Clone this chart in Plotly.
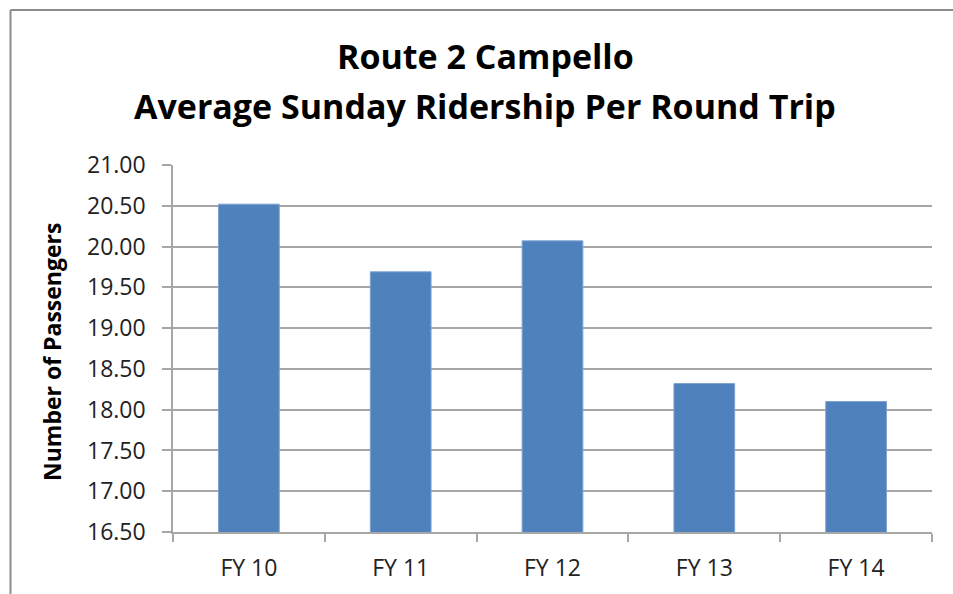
import plotly.graph_objects as go

categories = ["FY 10", "FY 11", "FY 12", "FY 13", "FY 14"]
values = [20.52, 19.69, 20.07, 18.32, 18.10]
title_line1 = "Route 2 Campello"
title_line2 = "Average Sunday Ridership Per Round Trip"
y_title = "Number of Passengers"

W, H = 953, 594
# target plot area in window pixels: x 173..932, y 165.5..531.5
L = 173
T = 165
R = 953 - 932
B = 594 - 532
pw = W - L - R
ph = H - T - B

def px_x(x):
    return (x - L) / pw

def px_y(y):
    return (H - B - y) / ph

fig = go.Figure()
fig.add_trace(go.Bar(
    x=categories, y=values,
    marker=dict(color="#4F81BD", line=dict(color="#7DA2D3", width=1)),
    width=0.4,
))

font = "Open Sans"
fig.update_layout(
    width=W, height=H,
    margin=dict(l=L, r=R, t=T, b=B),
    paper_bgcolor="white", plot_bgcolor="white",
    showlegend=False,
    font=dict(family=font, color="#222222"),
    xaxis=dict(
        showline=True, linecolor="#A6A6A6", linewidth=1.5,
        ticks="outside", tickson="boundaries", ticklen=8, tickcolor="#A6A6A6", tickwidth=1.5,
        tickfont=dict(size=23, family=font, color="#222222"),
        ticklabelstandoff=15,
        showgrid=False,
    ),
    yaxis=dict(
        range=[16.5, 21.0], dtick=0.5, tick0=16.5, tickformat=".2f",
        showline=True, linecolor="#A6A6A6", linewidth=1.5,
        ticks="outside", ticklen=9, tickcolor="#A6A6A6", tickwidth=1.5,
        showgrid=True, gridcolor="#A6A6A6", gridwidth=1.5,
        tickfont=dict(size=23, family=font, color="#222222"),
        ticklabelstandoff=12,
        zeroline=False,
    ),
    annotations=[
        dict(text="<b>%s</b>" % title_line1, xref="paper", yref="paper",
             x=px_x(485), y=px_y(56), xanchor="center", yanchor="middle",
             showarrow=False, font=dict(size=34, family=font, color="#000000")),
        dict(text="<b>%s</b>" % title_line2, xref="paper", yref="paper",
             x=px_x(485), y=px_y(106), xanchor="center", yanchor="middle",
             showarrow=False, font=dict(size=34, family=font, color="#000000")),
        dict(text="<b>%s</b>" % y_title, xref="paper", yref="paper",
             x=px_x(52), y=px_y(352), xanchor="center", yanchor="middle",
             textangle=-90, showarrow=False,
             font=dict(size=23, family=font, color="#000000")),
    ],
    shapes=[
        dict(type="line", xref="paper", yref="paper",
             x0=px_x(10.5), x1=px_x(10.5), y0=px_y(10), y1=px_y(600),
             line=dict(color="#8C8C8C", width=2)),
        dict(type="line", xref="paper", yref="paper",
             x0=px_x(10.5), x1=px_x(960), y0=px_y(10), y1=px_y(10),
             line=dict(color="#8C8C8C", width=2)),
    ],
)

fig.write_html(
    "out.html",
    config={"displayModeBar": False},
    post_script="document.body.style.margin='0';document.body.style.overflow='hidden';",
)
